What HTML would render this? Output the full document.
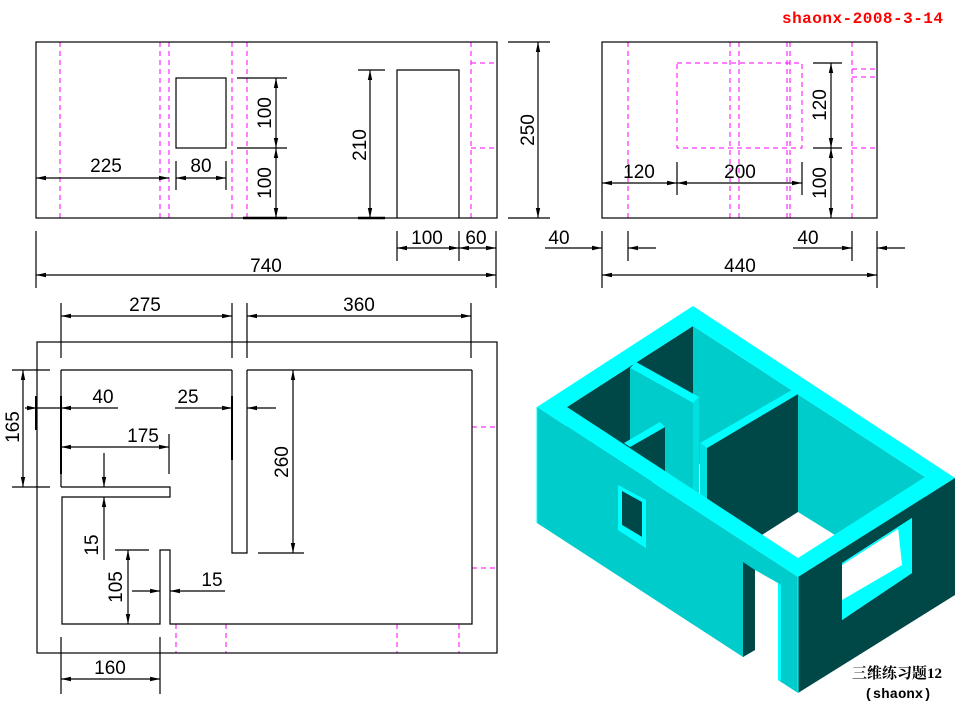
<!DOCTYPE html>
<html><head><meta charset="utf-8"><style>
html,body{margin:0;padding:0;background:#fff;}
svg{display:block;}
.t{font-family:"Liberation Sans",sans-serif;font-size:19px;fill:#000;}
</style></head><body>
<svg width="960" height="720" viewBox="0 0 960 720" xmlns="http://www.w3.org/2000/svg">
<defs>
<marker id="a" markerUnits="userSpaceOnUse" markerWidth="12" markerHeight="8" refX="10" refY="4" orient="auto-start-reverse" viewBox="0 0 12 8">
<path d="M0,1.8 L10,4 L0,6.2 z" fill="#000"/>
</marker>
</defs>
<rect width="960" height="720" fill="#fff"/>
<text x="782" y="23" font-family="'Liberation Mono',monospace" font-weight="bold" font-size="16" fill="#f00" textLength="161">shaonx-2008-3-14</text>

<!-- ========== front elevation ========== -->
<g stroke="#f0f" stroke-width="1" stroke-dasharray="5,4" fill="none">
<line x1="60" y1="42" x2="60" y2="218"/><line x1="160" y1="42" x2="160" y2="218"/>
<line x1="169" y1="42" x2="169" y2="218"/><line x1="232" y1="42" x2="232" y2="218"/>
<line x1="247" y1="42" x2="247" y2="218"/><line x1="471" y1="42" x2="471" y2="218"/>
<line x1="471" y1="63" x2="497" y2="63"/><line x1="471" y1="148" x2="497" y2="148"/>
</g>
<g stroke="#000" stroke-width="1.2" fill="none">
<rect x="36" y="42" width="461" height="176"/>
<rect x="176" y="78" width="50" height="70"/>
<polyline points="397,218 397,70 459,70 459,218"/>
<line x1="237" y1="78" x2="287" y2="78"/><line x1="237" y1="148" x2="287" y2="148"/>
<line x1="243" y1="218" x2="287" y2="218" stroke-width="2.5"/>
<line x1="358" y1="70" x2="385" y2="70"/><line x1="358" y1="218" x2="385" y2="218" stroke-width="2.5"/>
<line x1="176" y1="161" x2="176" y2="190"/><line x1="226" y1="161" x2="226" y2="190"/>
<line x1="397" y1="231" x2="397" y2="261"/><line x1="459" y1="231" x2="459" y2="261"/>
<line x1="496" y1="231" x2="496" y2="288"/><line x1="36" y1="231" x2="36" y2="288"/>
<line x1="508" y1="42" x2="550" y2="42"/><line x1="508" y1="218" x2="550" y2="218"/>
<line x1="276" y1="78" x2="276" y2="148" marker-start="url(#a)" marker-end="url(#a)"/>
<line x1="276" y1="148" x2="276" y2="218" marker-start="url(#a)" marker-end="url(#a)"/>
<line x1="370" y1="70" x2="370" y2="218" marker-start="url(#a)" marker-end="url(#a)"/>
<line x1="36" y1="178" x2="169" y2="178" marker-start="url(#a)" marker-end="url(#a)"/>
<line x1="176" y1="178" x2="226" y2="178" marker-start="url(#a)" marker-end="url(#a)"/>
<line x1="397" y1="248" x2="459" y2="248" marker-start="url(#a)" marker-end="url(#a)"/>
<line x1="459" y1="248" x2="496" y2="248" marker-start="url(#a)" marker-end="url(#a)"/>
<line x1="36" y1="275" x2="496" y2="275" marker-start="url(#a)" marker-end="url(#a)"/>
<line x1="538" y1="42" x2="538" y2="218" marker-start="url(#a)" marker-end="url(#a)"/>
</g>
<text class="t" x="106" y="172" text-anchor="middle">225</text>
<text class="t" x="201" y="172" text-anchor="middle">80</text>
<text class="t" transform="translate(271,113) rotate(-90)" text-anchor="middle">100</text>
<text class="t" transform="translate(271,183) rotate(-90)" text-anchor="middle">100</text>
<text class="t" transform="translate(366,145) rotate(-90)" text-anchor="middle">210</text>
<text class="t" x="427" y="244" text-anchor="middle">100</text>
<text class="t" x="476" y="244" text-anchor="middle">60</text>
<text class="t" x="266" y="272" text-anchor="middle">740</text>
<text class="t" transform="translate(534,130) rotate(-90)" text-anchor="middle">250</text>

<!-- ========== side elevation ========== -->
<g stroke="#f0f" stroke-width="1" stroke-dasharray="5,4" fill="none">
<line x1="628" y1="42" x2="628" y2="218"/><line x1="730" y1="42" x2="730" y2="218"/>
<line x1="739" y1="42" x2="739" y2="218"/><line x1="787" y1="42" x2="787" y2="218"/>
<line x1="790" y1="42" x2="790" y2="218"/><line x1="852" y1="42" x2="852" y2="218"/>
<rect x="677" y="63" width="125" height="85"/>
<line x1="852" y1="69" x2="877" y2="69"/><line x1="852" y1="77" x2="877" y2="77"/>
<line x1="852" y1="148" x2="877" y2="148"/>
</g>
<g stroke="#000" stroke-width="1.2" fill="none">
<rect x="602" y="42" width="275" height="176"/>
<line x1="813" y1="63" x2="842" y2="63"/><line x1="813" y1="148" x2="842" y2="148"/>
<line x1="677" y1="162" x2="677" y2="195"/><line x1="802" y1="162" x2="802" y2="195"/>
<line x1="602" y1="231" x2="602" y2="288"/><line x1="628" y1="231" x2="628" y2="261"/>
<line x1="852" y1="231" x2="852" y2="261"/><line x1="877" y1="231" x2="877" y2="288"/>
<line x1="831" y1="63" x2="831" y2="148" marker-start="url(#a)" marker-end="url(#a)"/>
<line x1="831" y1="148" x2="831" y2="218" marker-start="url(#a)" marker-end="url(#a)"/>
<line x1="602" y1="183" x2="677" y2="183" marker-start="url(#a)" marker-end="url(#a)"/>
<line x1="677" y1="183" x2="802" y2="183" marker-start="url(#a)" marker-end="url(#a)"/>
<line x1="545" y1="248" x2="602" y2="248" marker-end="url(#a)"/>
<line x1="628" y1="248" x2="656" y2="248" marker-start="url(#a)"/>
<line x1="793" y1="248" x2="852" y2="248" marker-end="url(#a)"/>
<line x1="877" y1="248" x2="905" y2="248" marker-start="url(#a)"/>
<line x1="602" y1="275" x2="877" y2="275" marker-start="url(#a)" marker-end="url(#a)"/>
</g>
<text class="t" transform="translate(826,105) rotate(-90)" text-anchor="middle">120</text>
<text class="t" transform="translate(826,183) rotate(-90)" text-anchor="middle">100</text>
<text class="t" x="639" y="178" text-anchor="middle">120</text>
<text class="t" x="740" y="178" text-anchor="middle">200</text>
<text class="t" x="559" y="244" text-anchor="middle">40</text>
<text class="t" x="808" y="244" text-anchor="middle">40</text>
<text class="t" x="740" y="272" text-anchor="middle">440</text>

<!-- ========== plan ========== -->
<g stroke="#f0f" stroke-width="1" stroke-dasharray="5,4" fill="none">
<line x1="472" y1="427" x2="497" y2="427"/><line x1="472" y1="568" x2="497" y2="568"/>
<line x1="176" y1="624" x2="176" y2="653"/><line x1="226" y1="624" x2="226" y2="653"/>
<line x1="397" y1="624" x2="397" y2="653"/><line x1="459" y1="624" x2="459" y2="653"/>
</g>
<g stroke="#000" stroke-width="1.2" fill="none">
<rect x="37" y="342" width="460" height="311"/>
<line x1="61" y1="370" x2="232" y2="370"/><line x1="247" y1="370" x2="472" y2="370"/>
<line x1="61" y1="370" x2="61" y2="487"/>
<polyline points="61,487 170,487 170,497 62,497 62,624 160,624 160,550 170,550 170,624 472,624 472,370"/>
<polyline points="232,370 232,553 247,553 247,370"/>
<line x1="61" y1="303" x2="61" y2="358"/><line x1="232" y1="303" x2="232" y2="358"/>
<line x1="247" y1="303" x2="247" y2="358"/><line x1="471" y1="303" x2="471" y2="358"/>
<line x1="12" y1="370" x2="50" y2="370"/><line x1="12" y1="487" x2="50" y2="487"/>
<line x1="36" y1="396" x2="36" y2="430" stroke-width="2"/>
<line x1="61" y1="396" x2="61" y2="474" stroke-width="2"/>
<line x1="232" y1="396" x2="232" y2="460" stroke-width="2"/>
<line x1="169" y1="434" x2="169" y2="474"/>
<line x1="258" y1="553" x2="304" y2="553"/>
<line x1="115" y1="550" x2="149" y2="550"/>
<line x1="61" y1="637" x2="61" y2="694"/><line x1="160" y1="637" x2="160" y2="694"/>
<line x1="61" y1="316" x2="232" y2="316" marker-start="url(#a)" marker-end="url(#a)"/>
<line x1="247" y1="316" x2="471" y2="316" marker-start="url(#a)" marker-end="url(#a)"/>
<line x1="23" y1="370" x2="23" y2="487" marker-start="url(#a)" marker-end="url(#a)"/>
<line x1="25" y1="408" x2="37" y2="408" marker-end="url(#a)"/>
<line x1="37" y1="408" x2="61" y2="408"/>
<line x1="61" y1="408" x2="118" y2="408" marker-start="url(#a)"/>
<line x1="61" y1="447" x2="169" y2="447" marker-start="url(#a)" marker-end="url(#a)"/>
<line x1="104" y1="453" x2="104" y2="487" marker-end="url(#a)"/>
<line x1="104" y1="497" x2="104" y2="560" marker-start="url(#a)"/>
<line x1="175" y1="408" x2="232" y2="408" marker-end="url(#a)"/>
<line x1="247" y1="408" x2="276" y2="408" marker-start="url(#a)"/>
<line x1="293" y1="370" x2="293" y2="553" marker-start="url(#a)" marker-end="url(#a)"/>
<line x1="128" y1="550" x2="128" y2="624" marker-start="url(#a)" marker-end="url(#a)"/>
<line x1="132" y1="591" x2="160" y2="591" marker-end="url(#a)"/>
<line x1="170" y1="591" x2="225" y2="591" marker-start="url(#a)"/>
<line x1="61" y1="679" x2="160" y2="679" marker-start="url(#a)" marker-end="url(#a)"/>
</g>
<text class="t" x="145" y="311" text-anchor="middle">275</text>
<text class="t" x="359" y="311" text-anchor="middle">360</text>
<text class="t" transform="translate(19,427) rotate(-90)" text-anchor="middle">165</text>
<text class="t" x="103" y="403" text-anchor="middle">40</text>
<text class="t" x="143" y="442" text-anchor="middle">175</text>
<text class="t" transform="translate(98,545) rotate(-90)" text-anchor="middle">15</text>
<text class="t" x="188" y="403" text-anchor="middle">25</text>
<text class="t" transform="translate(288,462) rotate(-90)" text-anchor="middle">260</text>
<text class="t" transform="translate(122,587) rotate(-90)" text-anchor="middle">105</text>
<text class="t" x="212" y="586" text-anchor="middle">15</text>
<text class="t" x="110" y="674" text-anchor="middle">160</text>

<!-- ========== 3D view ========== -->
<g stroke="none">
<polygon points="693,326 925,477 925,600 693,460" fill="#00cccc"/>
<polygon points="567,407 693,326 693,460 567,530" fill="#004848"/>
<polygon points="630,368 693,403 693,495 630,445" fill="#00cccc"/>
<polygon points="630,368 636,362 699,397 693,403" fill="#00ffff"/>
<polygon points="693,403 699,397 699,500 693,495" fill="#00e0e0"/>
<polygon points="630,447 665,427 665,480 630,480" fill="#004848"/>
<polygon points="624,443 660,422 665,427 630,447" fill="#00ffff"/>
<polygon points="707,448 798,394 798,512 762,535 707,500" fill="#004848"/>
<polygon points="700,443 792,390 798,394 707,448" fill="#00ffff"/>
<polygon points="700,443 707,448 707,500 700,496" fill="#00e0e0"/>
<polygon points="762,535 798,512 835,535 798,558" fill="#ffffff"/>
<path d="M693,306 L955,478 L798,577 L537,407 Z M693,326 L567,407 L798,558 L925,477 Z" fill="#00ffff" fill-rule="evenodd"/>
<polygon points="537,407 798,577 798,693 778,680 778,583 755,570 755,650 743,657 537,523" fill="#00cccc"/>
<polygon points="743,562 755,570 755,650 743,657" fill="#004848"/>
<polygon points="778,583 781,585 781,681 778,680" fill="#00ffff"/>
<line x1="537" y1="407" x2="537" y2="523" stroke="#00ffff" stroke-width="1"/>
<polygon points="618,485 646,500 646,548 618,530" fill="#00ffff"/>
<polygon points="622,491 642,502 642,537 622,525" fill="#004848"/>
<polygon points="622,525 642,537 646,548 618,530" fill="#00ffff"/>
<polygon points="798,577 955,478 955,595 798,693" fill="#004848"/>
<line x1="798" y1="577" x2="798" y2="693" stroke="#00ffff" stroke-width="1"/>
<!-- right window -->
<polygon points="842,563 912,518 912,573 842,620" fill="#ffffff"/>
<polygon points="842,600 902,565 912,573 842,620" fill="#00ffff"/>
<polygon points="898,527 912,518 912,573 902,565" fill="#00ffff"/>
<polygon points="842,563 912,518 912,520 842,565" fill="#00ffff"/>
</g>
<text x="897" y="678" text-anchor="middle" font-family="'Liberation Serif','Noto Serif CJK SC',serif" font-weight="bold" font-size="15" fill="#000">三维练习题12</text>
<text x="898" y="698" text-anchor="middle" font-family="'Liberation Mono',monospace" font-weight="bold" font-size="14" fill="#000">(shaonx)</text>
</svg>
</body></html>
